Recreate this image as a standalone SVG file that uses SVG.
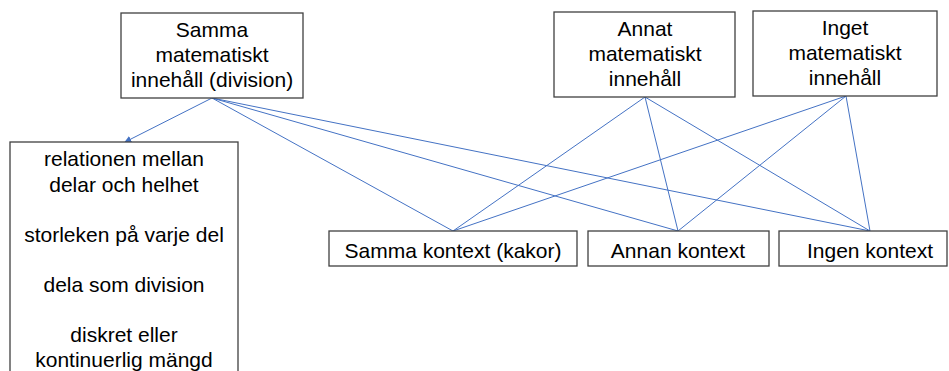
<svg xmlns="http://www.w3.org/2000/svg" width="949" height="371" viewBox="0 0 949 371">
<style>
.box{fill:#fff;stroke:#404040;stroke-width:1.3}
.t{font-family:"Liberation Sans",Arial,sans-serif;font-size:21px;fill:#000;text-anchor:middle}
.c{stroke:#4472C4;stroke-width:1;fill:none}
</style>
<defs>
<marker id="ah" viewBox="0 0 10 10" refX="9" refY="5" markerWidth="7" markerHeight="7" orient="auto" markerUnits="userSpaceOnUse">
<path d="M0,0 L10,5 L0,10 z" fill="#4472C4"/>
</marker>
</defs>
<g id="connectors">
<line class="c" x1="212" y1="98" x2="125" y2="142" marker-end="url(#ah)"/>
<line class="c" x1="212" y1="98" x2="453" y2="231"/>
<line class="c" x1="212" y1="98" x2="678" y2="231"/>
<line class="c" x1="212" y1="98" x2="870" y2="231"/>
<line class="c" x1="645" y1="97" x2="453" y2="231"/>
<line class="c" x1="645" y1="97" x2="678" y2="231"/>
<line class="c" x1="645" y1="97" x2="870" y2="231"/>
<line class="c" x1="846" y1="96" x2="453" y2="231"/>
<line class="c" x1="846" y1="96" x2="678" y2="231"/>
<line class="c" x1="846" y1="96" x2="870" y2="231"/>
</g>
<g id="samma-innehall">
<rect class="box" x="121" y="13" width="182" height="85"/>
<text class="t" x="212" y="37">Samma</text>
<text class="t" x="212" y="62">matematiskt</text>
<text class="t" x="212" y="87">innehåll (division)</text>
</g>
<g id="annat-innehall">
<rect class="box" x="554" y="12" width="181" height="85"/>
<text class="t" x="645" y="36">Annat</text>
<text class="t" x="645" y="61">matematiskt</text>
<text class="t" x="645" y="86">innehåll</text>
</g>
<g id="inget-innehall">
<rect class="box" x="753" y="11" width="184" height="85"/>
<text class="t" x="845" y="35">Inget</text>
<text class="t" x="845" y="60">matematiskt</text>
<text class="t" x="845" y="85">innehåll</text>
</g>
<g id="aspekter">
<rect class="box" x="10" y="142" width="228" height="240"/>
<text class="t" x="124" y="166">relationen mellan</text>
<text class="t" x="124" y="192">delar och helhet</text>
<text class="t" x="124" y="242">storleken på varje del</text>
<text class="t" x="124" y="292">dela som division</text>
<text class="t" x="124" y="342">diskret eller</text>
<text class="t" x="124" y="367">kontinuerlig mängd</text>
</g>
<g id="samma-kontext">
<rect class="box" x="329" y="231" width="248" height="35"/>
<text class="t" x="453" y="258">Samma kontext (kakor)</text>
</g>
<g id="annan-kontext">
<rect class="box" x="588" y="231" width="181" height="35"/>
<text class="t" x="678" y="258">Annan kontext</text>
</g>
<g id="ingen-kontext">
<rect class="box" x="779" y="231" width="168" height="35"/>
<text class="t" x="870" y="258">Ingen kontext</text>
</g>
</svg>
